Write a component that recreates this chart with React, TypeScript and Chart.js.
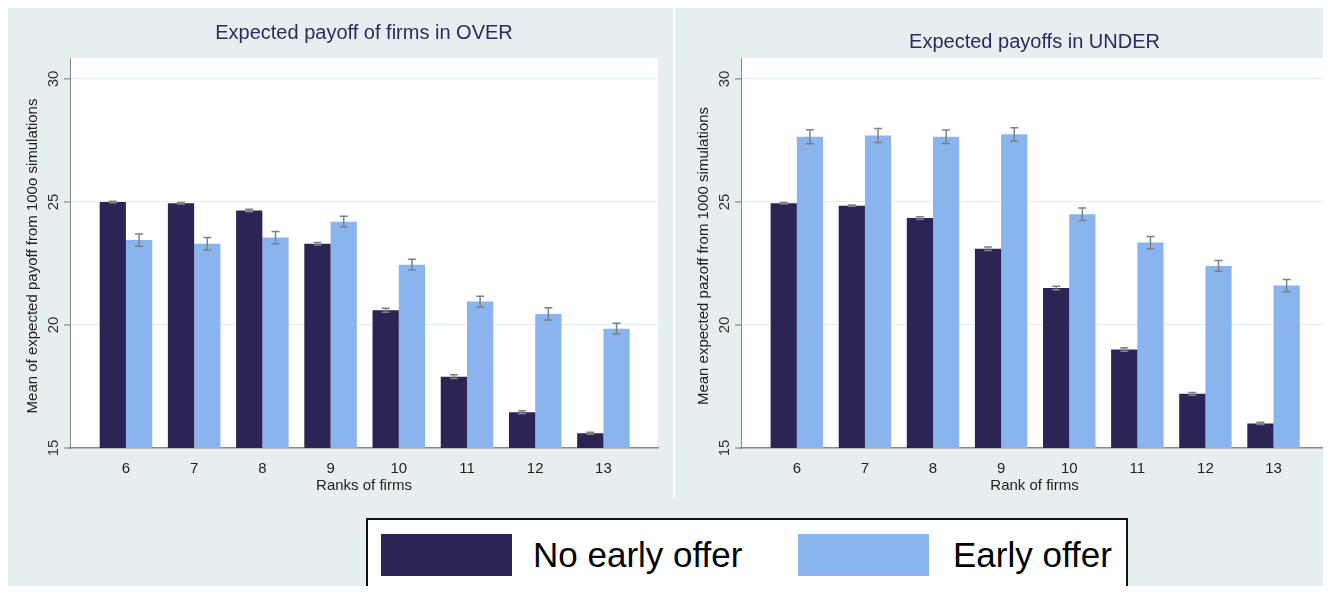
import React, { useEffect, useRef } from 'react';
import { Chart, registerables } from 'chart.js';

Chart.register(...registerables);

const ranks = [6, 7, 8, 9, 10, 11, 12, 13];
const overNoEarly = [25.0, 24.95, 24.65, 23.3, 20.6, 17.9, 16.45, 15.6];
const overNoEarlyErr = [0.03, 0.03, 0.05, 0.05, 0.08, 0.08, 0.06, 0.04];
const overEarly = [23.45, 23.3, 23.55, 24.2, 22.45, 20.95, 20.45, 19.85];
const overEarlyErr = [0.25, 0.25, 0.25, 0.22, 0.22, 0.22, 0.25, 0.22];
const underNoEarly = [24.95, 24.85, 24.35, 23.1, 21.5, 19.0, 17.2, 16.0];
const underNoEarlyErr = [0.03, 0.03, 0.05, 0.07, 0.07, 0.07, 0.06, 0.05];
const underEarly = [27.65, 27.7, 27.65, 27.75, 24.5, 23.35, 22.4, 21.6];
const underEarlyErr = [0.28, 0.28, 0.27, 0.27, 0.25, 0.25, 0.22, 0.25];
const yTicks = [15, 20, 25, 30];

const DARK = '#2c2454';
const LIGHT = '#8ab4ee';
const BG = '#e6eef0';
const FONT = '"Liberation Sans", Arial, sans-serif';

type PanelProps = {
  title: string;
  titleY: number;
  yTitle: string;
  xTitle: string;
  noEarly: number[];
  noEarlyErr: number[];
  early: number[];
  earlyErr: number[];
  width: number;
  axisWidth: number;
  padRight: number;
};

const Panel: React.FC<PanelProps> = (p) => {
  const ref = useRef<HTMLCanvasElement>(null);

  useEffect(() => {
    if (!ref.current) return;
    const errs = [p.noEarlyErr, p.earlyErr];
    const decor = {
      id: 'decor',
      beforeDraw(chart: any) {
        const { ctx, chartArea: a } = chart;
        ctx.save();
        ctx.fillStyle = '#ffffff';
        ctx.fillRect(a.left, a.top, a.right - a.left, a.bottom - a.top);
        ctx.restore();
      },
      afterDraw(chart: any) {
        const { ctx, chartArea: a, scales } = chart;
        const y = scales.y;
        ctx.save();
        ctx.fillStyle = '#2b2a5e';
        ctx.font = '20px ' + FONT;
        ctx.textAlign = 'center';
        ctx.textBaseline = 'middle';
        ctx.fillText(p.title, (a.left + a.right) / 2, p.titleY);
        ctx.strokeStyle = '#777';
        ctx.lineWidth = 1;
        ctx.fillStyle = '#333';
        ctx.font = '15px ' + FONT;
        yTicks.forEach((t) => {
          const py = y.getPixelForValue(t);
          ctx.beginPath();
          ctx.moveTo(a.left - 6, py);
          ctx.lineTo(a.left, py);
          ctx.stroke();
          ctx.save();
          ctx.translate(a.left - 16, py);
          ctx.rotate(-Math.PI / 2);
          ctx.fillText(String(t), 0, 0);
          ctx.restore();
        });
        ctx.save();
        ctx.translate(a.left - 37, (a.top + a.bottom) / 2 + 3);
        ctx.rotate(-Math.PI / 2);
        ctx.fillStyle = '#222';
        ctx.fillText(p.yTitle, 0, 0);
        ctx.restore();
        ctx.strokeStyle = '#808080';
        ctx.lineWidth = 1.5;
        [p.noEarly, p.early].forEach((vals, di) => {
          const meta = chart.getDatasetMeta(di);
          meta.data.forEach((bar: any, i: number) => {
            const v = vals[i];
            const e = errs[di][i];
            const top = y.getPixelForValue(v + e);
            const bot = y.getPixelForValue(v - e);
            const x = bar.x;
            ctx.beginPath();
            ctx.moveTo(x, top);
            ctx.lineTo(x, bot);
            ctx.moveTo(x - 4, top);
            ctx.lineTo(x + 4, top);
            ctx.moveTo(x - 4, bot);
            ctx.lineTo(x + 4, bot);
            ctx.stroke();
          });
        });
        ctx.restore();
      },
    };

    const chart = new Chart(ref.current, {
      type: 'bar',
      data: {
        datasets: [
          { label: 'No early offer', data: ranks.map((r, i) => ({ x: r, y: p.noEarly[i] })), backgroundColor: DARK, categoryPercentage: 0.77, barPercentage: 1 },
          { label: 'Early offer', data: ranks.map((r, i) => ({ x: r, y: p.early[i] })), backgroundColor: LIGHT, categoryPercentage: 0.77, barPercentage: 1 },
        ],
      },
      options: {
        responsive: false,
        animation: false,
        layout: { padding: { top: 53, right: p.padRight, left: 0, bottom: 0 } },
        plugins: { legend: { display: false }, tooltip: { enabled: false } },
        scales: {
          x: {
            type: 'linear',
            min: 5.18,
            max: 13.8,
            offset: false,
            afterBuildTicks: (s: any) => { s.ticks = ranks.map((v) => ({ value: v })); },
            grid: { display: false },
            border: { color: '#888', width: 1.5 },
            ticks: { color: '#222', font: { size: 15, family: FONT }, padding: 4 },
            title: { display: true, text: p.xTitle, color: '#222', padding: 0, font: { size: 15, family: FONT } },
            afterFit: (s: any) => { s.height = 47; },
          },
          y: {
            min: 15,
            max: 30.85,
            afterBuildTicks: (s: any) => { s.ticks = yTicks.map((v) => ({ value: v })); },
            grid: { color: '#e3edf2', drawTicks: false },
            border: { color: '#888', width: 1 },
            ticks: { display: false },
            afterFit: (s: any) => { s.width = p.axisWidth; },
          },
        },
      },
      plugins: [decor],
    });
    return () => chart.destroy();
  }, [p]);

  return <canvas ref={ref} width={p.width} height={490} style={{ display: 'block' }} />;
};

const App: React.FC = () => {
  return (
    <div style={{ position: 'relative', width: 1331, height: 594, background: BG, margin: -8, fontFamily: FONT }}>
      <div style={{ position: 'absolute', left: 8, top: 5 }}>
        <Panel title="Expected payoff of firms in OVER" titleY={28} yTitle="Mean of expected payoff from 100o simulations"
          xTitle="Ranks of firms" noEarly={overNoEarly} noEarlyErr={overNoEarlyErr} early={overEarly} earlyErr={overEarlyErr}
          width={661} axisWidth={62} padRight={11} />
      </div>
      <div style={{ position: 'absolute', left: 673, top: 0, width: 2, height: 498, background: '#fff' }} />
      <div style={{ position: 'absolute', left: 677, top: 5 }}>
        <Panel title="Expected payoffs in UNDER" titleY={37} yTitle="Mean expected pazoff from 1000 simulations"
          xTitle="Rank of firms" noEarly={underNoEarly} noEarlyErr={underNoEarlyErr} early={underEarly} earlyErr={underEarlyErr}
          width={654} axisWidth={64} padRight={3} />
      </div>
      <div style={{ position: 'absolute', left: 366, top: 518, width: 758, height: 68, background: '#fff', border: '2px solid #111' }}>
        <div style={{ position: 'absolute', left: 13, top: 14, width: 131, height: 42, background: DARK }} />
        <div style={{ position: 'absolute', left: 165, top: 13, fontSize: 35, lineHeight: '44px', color: '#000' }}>No early offer</div>
        <div style={{ position: 'absolute', left: 430, top: 14, width: 131, height: 42, background: LIGHT }} />
        <div style={{ position: 'absolute', left: 585, top: 13, fontSize: 35, lineHeight: '44px', color: '#000' }}>Early offer</div>
      </div>
    </div>
  );
};

export default App;
